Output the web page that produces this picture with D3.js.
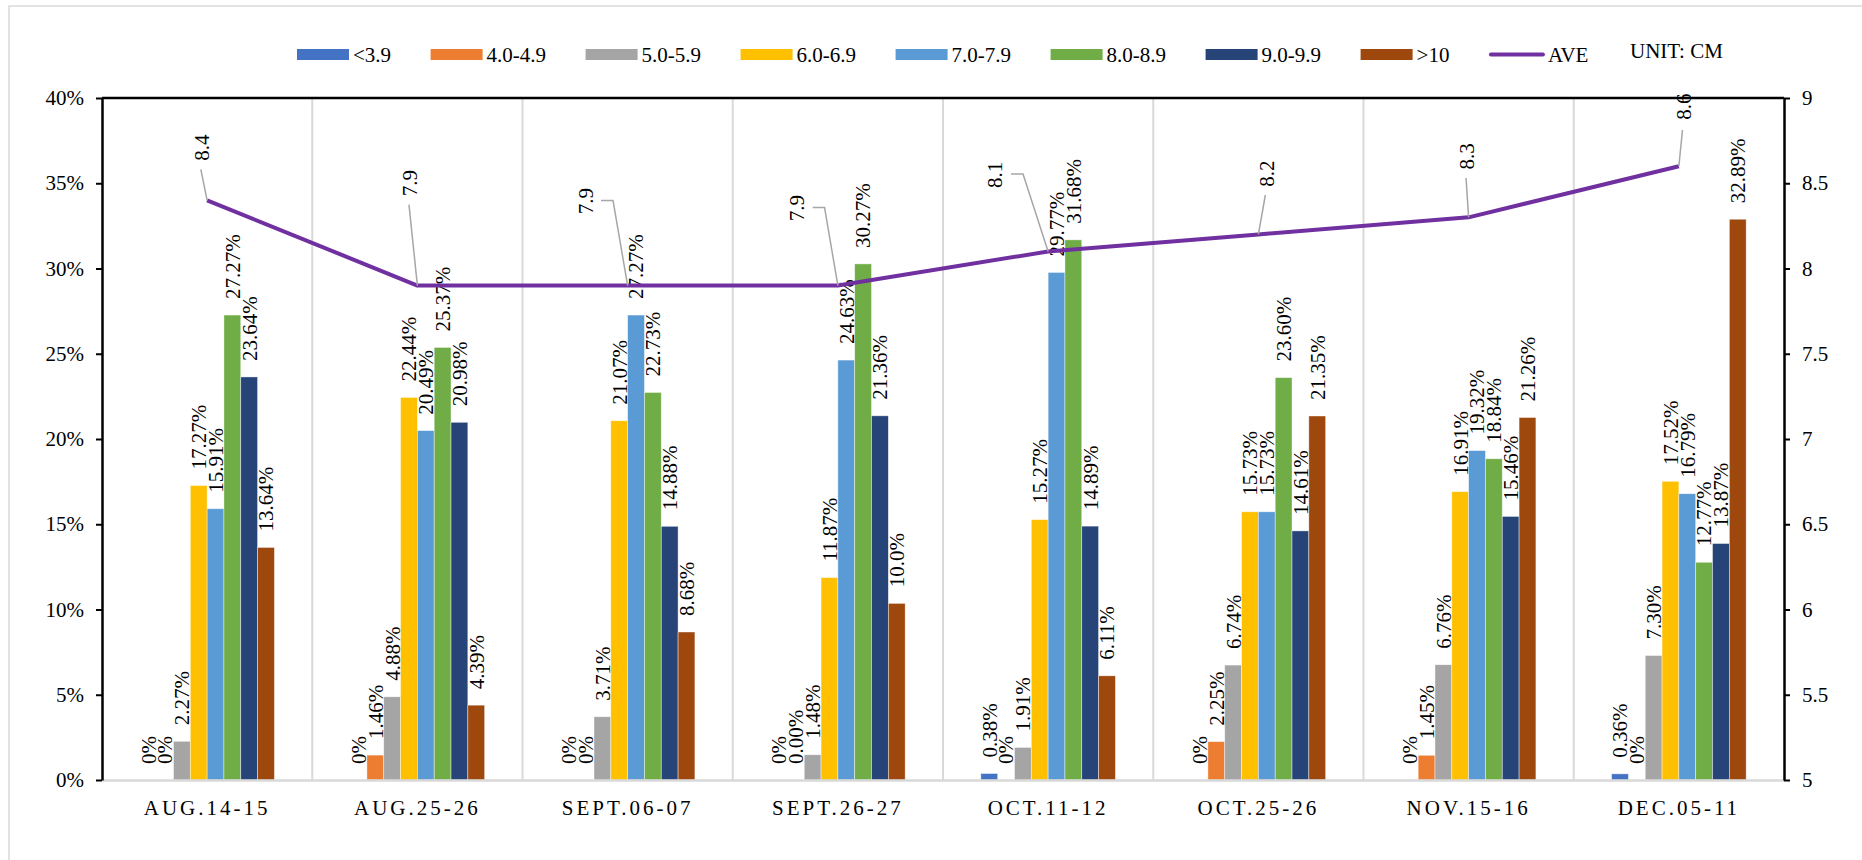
<!DOCTYPE html>
<html>
<head>
<meta charset="utf-8">
<script src="https://cdn.jsdelivr.net/npm/d3@7"></script>
<style>
    body { margin: 0; background: #fff; }
    text { font-family: "Liberation Serif", "Times New Roman", serif; fill: #000; }
</style>
</head>
<body>
<div id="chart"></div>
<script>
const categories = ["AUG.14-15", "AUG.25-26", "SEPT.06-07", "SEPT.26-27", "OCT.11-12", "OCT.25-26", "NOV.15-16", "DEC.05-11"];
const seriesNames = ["<3.9", "4.0-4.9", "5.0-5.9", "6.0-6.9", "7.0-7.9", "8.0-8.9", "9.0-9.9", ">10"];

// percent of fruits in each size class, one array per class
const s39 = [0, 0, 0, 0, 0.38, 0, 0, 0.36];
const s40 = [0, 1.46, 0, 0, 0, 2.25, 1.45, 0];
const s50 = [2.27, 4.88, 3.71, 1.48, 1.91, 6.74, 6.76, 7.30];
const s60 = [17.27, 22.44, 21.07, 11.87, 15.27, 15.73, 16.91, 17.52];
const s70 = [15.91, 20.49, 27.27, 24.63, 29.77, 15.73, 19.32, 16.79];
const s80 = [27.27, 25.37, 22.73, 30.27, 31.68, 23.60, 18.84, 12.77];
const s90 = [23.64, 20.98, 14.88, 21.36, 14.89, 14.61, 15.46, 13.87];
const s10 = [13.64, 4.39, 8.68, 10.36, 6.11, 21.35, 21.26, 32.89];
const seriesValues = [s39, s40, s50, s60, s70, s80, s90, s10];

// label texts as printed on the chart
const labels39 = ["0%", "0%", "0%", "0%", "0.38%", "0%", "0%", "0.36%"];
const labels40 = ["0%", "1.46%", "0%", "0.00%", "0%", "2.25%", "1.45%", "0%"];
const labels10 = ["13.64%", "4.39%", "8.68%", "10.0%", "6.11%", "21.35%", "21.26%", "32.89%"];

const ave = [8.4, 7.9, 7.9, 7.9, 8.1, 8.2, 8.3, 8.6];

const leftTicks = [0, 5, 10, 15, 20, 25, 30, 35, 40];
const rightTicks = [5, 5.5, 6, 6.5, 7, 7.5, 8, 8.5, 9];

const colors = ["#4472C4", "#ED7D31", "#A5A5A5", "#FFC000", "#5B9BD5", "#70AD47", "#264478", "#9E480E"];
const aveColor = "#7030A0";

// placement of the AVE data labels relative to their point: text centre and leader path
const aveLabelLayout = [
    {dx: -5.4, dy: -52.8, path: [[-6.3, -31]]},
    {dx: -7.4, dy: -102.5, path: [[-8.4, -81]]},
    {dx: -41.6, dy: -84.5, path: [[-14.6, -85], [-26.6, -85]]},
    {dx: -40.9, dy: -77.5, path: [[-13.3, -78], [-25.2, -78]]},
    {dx: -53.1, dy: -76.5, path: [[-25.1, -77.5], [-37.1, -77.5]]},
    {dx: 8.1, dy: -60.9, path: [[7, -39.4]]},
    {dx: -1.6, dy: -60.9, path: [[-2.6, -39.4]]},
    {dx: 4.6, dy: -59.7, path: [[3.6, -36.2]]}
];

const fmt = v => v === 0 ? "0%" : v.toFixed(2) + "%";
const seriesLabels = seriesValues.map((vals, i) => {
    if (i === 0) return labels39;
    if (i === 1) return labels40;
    if (i === 7) return labels10;
    return vals.map(fmt);
});

const svgWidth = 1862;
const svgHeight = 860;
const plot = {left: 102, right: 1784, top: 98, bottom: 780};
const fontSize = 21;

const svg = d3.select("#chart")
    .append("svg")
    .attr("width", svgWidth)
    .attr("height", svgHeight);

// outer chart border (only left/top fall inside the picture)
svg.append("rect")
    .attr("x", 9)
    .attr("y", 6)
    .attr("width", svgWidth + 20)
    .attr("height", svgHeight + 20)
    .attr("fill", "none")
    .attr("stroke", "#d9d9d9")
    .attr("stroke-width", 1.5);

const x0 = d3.scaleBand()
    .domain(categories)
    .range([plot.left, plot.right])
    .padding(0);

const x1 = d3.scaleBand()
    .domain(seriesNames)
    .range([0, x0.bandwidth()])
    .paddingInner(0)
    .paddingOuter(2.25);

const y = d3.scaleLinear()
    .domain([0, 40])
    .range([plot.bottom, plot.top]);

const yRight = d3.scaleLinear()
    .domain([5, 9])
    .range([plot.bottom, plot.top]);

// category separators
svg.append("g")
    .selectAll("line")
    .data(categories.slice(1))
    .enter()
    .append("line")
    .attr("x1", d => x0(d))
    .attr("x2", d => x0(d))
    .attr("y1", plot.top)
    .attr("y2", plot.bottom)
    .attr("stroke", "#d9d9d9")
    .attr("stroke-width", 2);

// bars
const barData = [];
seriesValues.forEach((vals, si) => {
    vals.forEach((v, ci) => {
        barData.push({series: seriesNames[si], si: si, cat: categories[ci], value: v, label: seriesLabels[si][ci]});
    });
});

svg.append("g")
    .selectAll("rect")
    .data(barData.filter(d => d.value > 0))
    .enter()
    .append("rect")
    .attr("x", d => x0(d.cat) + x1(d.series))
    .attr("y", d => y(d.value))
    .attr("width", x1.bandwidth())
    .attr("height", d => y(0) - y(d.value))
    .attr("fill", d => colors[d.si])
    .attr("stroke", "#ffffff")
    .attr("stroke-opacity", 0.6)
    .attr("stroke-width", 0.7);

// x axis
const xAxis = svg.append("g")
    .attr("transform", `translate(0, ${plot.bottom})`)
    .call(d3.axisBottom(x0).tickSize(0).tickSizeOuter(0).tickPadding(20));
xAxis.select(".domain")
    .attr("stroke", "#d9d9d9")
    .attr("stroke-width", 2.5);
xAxis.selectAll("text")
    .attr("font-size", fontSize)
    .attr("letter-spacing", "3px")
    .style("font-family", "'Liberation Serif', serif");

// left axis
const yAxis = svg.append("g")
    .attr("transform", `translate(${plot.left}, 0)`)
    .call(d3.axisLeft(y).tickValues(leftTicks).tickFormat(d => d + "%").tickSize(6).tickSizeOuter(0).tickPadding(12));

// right axis
const yAxisRight = svg.append("g")
    .attr("transform", `translate(${plot.right}, 0)`)
    .call(d3.axisRight(yRight).tickValues(rightTicks).tickFormat(d3.format("")).tickSize(6).tickSizeOuter(0).tickPadding(12));

[yAxis, yAxisRight].forEach(ax => {
    ax.select(".domain").attr("stroke", "#000").attr("stroke-width", 2.5);
    ax.selectAll(".tick line").attr("stroke", "#000").attr("stroke-width", 2);
    ax.selectAll("text")
        .attr("font-size", fontSize)
        .style("font-family", "'Liberation Serif', serif");
});

// top border of plot area
svg.append("line")
    .attr("x1", plot.left)
    .attr("x2", plot.right)
    .attr("y1", plot.top)
    .attr("y2", plot.top)
    .attr("stroke", "#000")
    .attr("stroke-width", 2.5);

// bar labels
svg.append("g")
    .selectAll("text")
    .data(barData)
    .enter()
    .append("text")
    .attr("transform", d => `translate(${x0(d.cat) + x1(d.series) + x1.bandwidth() / 2}, ${y(d.value) - 16}) rotate(-90)`)
    .attr("text-anchor", "start")
    .attr("dy", "0.35em")
    .attr("font-size", fontSize)
    .text(d => d.label);

// AVE line
const avePoints = ave.map((v, i) => ({x: x0(categories[i]) + x0.bandwidth() / 2, y: yRight(v), v: v, lay: aveLabelLayout[i]}));

svg.append("path")
    .datum(avePoints)
    .attr("fill", "none")
    .attr("stroke", aveColor)
    .attr("stroke-width", 4)
    .attr("stroke-linejoin", "round")
    .attr("d", d3.line().x(d => d.x).y(d => d.y));

// AVE leader lines and labels
svg.append("g")
    .selectAll("path")
    .data(avePoints)
    .enter()
    .append("path")
    .attr("fill", "none")
    .attr("stroke", "#a6a6a6")
    .attr("stroke-width", 1.5)
    .attr("d", d => d3.line()([[d.x, d.y]].concat(d.lay.path.map(p => [d.x + p[0], d.y + p[1]]))));

svg.append("g")
    .selectAll("text")
    .data(avePoints)
    .enter()
    .append("text")
    .attr("transform", d => `translate(${d.x + d.lay.dx}, ${d.y + d.lay.dy}) rotate(-90)`)
    .attr("text-anchor", "middle")
    .attr("dy", "0.35em")
    .attr("font-size", fontSize)
    .text(d => d.v);

// legend
const legend = svg.append("g");
let lx = 297;
const legendY = 54.5;
seriesNames.forEach((name, i) => {
    legend.append("rect")
        .attr("x", lx)
        .attr("y", legendY - 5.5)
        .attr("width", 52)
        .attr("height", 11)
        .attr("fill", colors[i]);
    const t = legend.append("text")
        .attr("x", lx + 56)
        .attr("y", legendY + 7.5)
        .attr("font-size", fontSize)
        .text(name);
    lx += 56 + t.node().getComputedTextLength() + 39.5;
});

legend.append("line")
    .attr("x1", lx + 2)
    .attr("x2", lx + 54)
    .attr("y1", legendY)
    .attr("y2", legendY)
    .attr("stroke", aveColor)
    .attr("stroke-width", 4)
    .attr("stroke-linecap", "round");

legend.append("text")
    .attr("x", lx + 59)
    .attr("y", legendY + 7.5)
    .attr("font-size", fontSize)
    .text("AVE");

svg.append("text")
    .attr("x", 1630)
    .attr("y", 57.5)
    .attr("font-size", fontSize)
    .text("UNIT: CM");
</script>
</body>
</html>
